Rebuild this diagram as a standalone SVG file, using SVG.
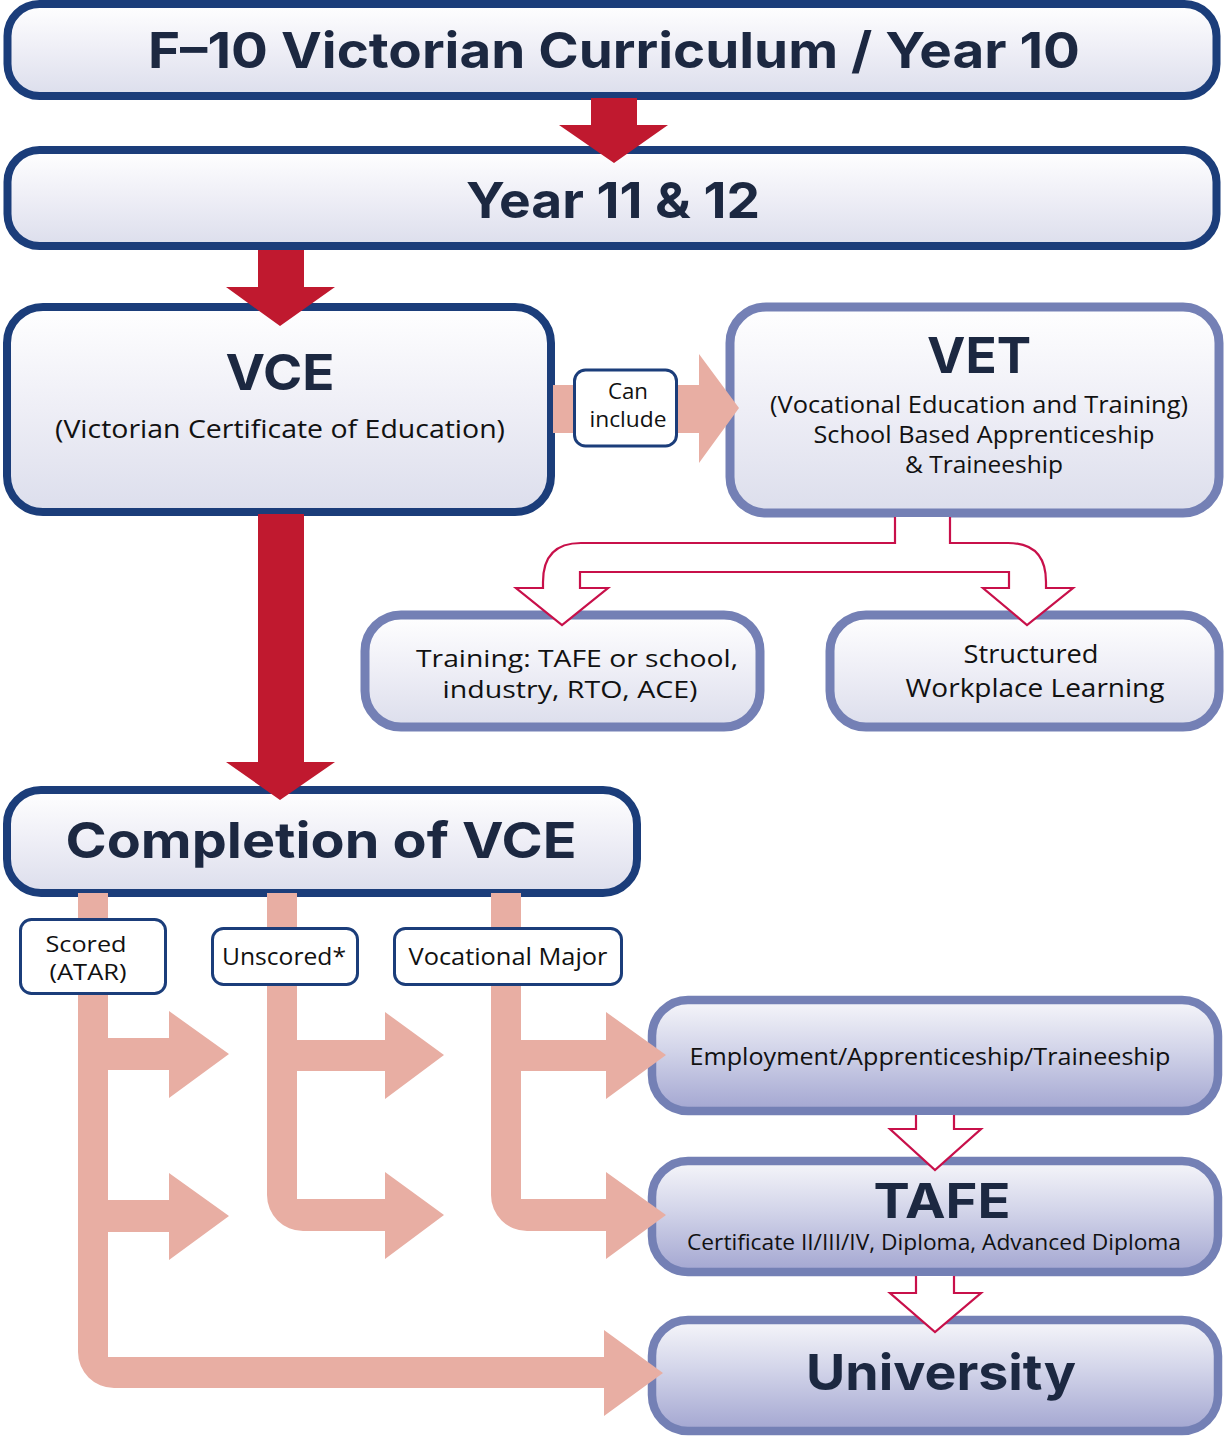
<svg xmlns="http://www.w3.org/2000/svg" width="1224" height="1436" viewBox="0 0 1224 1436">
<defs>
<linearGradient id="gLight" x1="0" y1="0" x2="0" y2="1">
<stop offset="0" stop-color="#ffffff"/>
<stop offset="0.5" stop-color="#eeeef6"/>
<stop offset="1" stop-color="#dcdeec"/>
</linearGradient>
<linearGradient id="gStrong" x1="0" y1="0" x2="0" y2="1">
<stop offset="0" stop-color="#f6f6fa"/>
<stop offset="0.45" stop-color="#d2d4e9"/>
<stop offset="1" stop-color="#a3a6d1"/>
</linearGradient>
<style>
.dark{fill:url(#gLight);stroke:#1b3d7a;stroke-width:8}
.lav{fill:url(#gLight);stroke:#7480b5;stroke-width:9}
.lavS{fill:url(#gStrong);stroke:#7480b5;stroke-width:8.5}
.lbl{fill:#ffffff;stroke:#1b3d7a;stroke-width:3}
.red{fill:#c0192f}
.sal{fill:#e8aea3}
.hol{fill:#ffffff;stroke:#c8104a;stroke-width:2.2;stroke-linejoin:miter}
.b{font-family:Inter,"Noto Sans","Liberation Sans",sans-serif;font-weight:700;fill:#1c2841;text-anchor:middle}
.r{font-family:"Open Sans","Noto Sans","Liberation Sans",sans-serif;font-weight:400;fill:#111111;text-anchor:middle}
</style>
</defs>

<g id="n-year10">
<rect class="dark" x="7.5" y="4" width="1209" height="92" rx="32"/>
<text class="b" x="614" y="68" font-size="50" textLength="932" lengthAdjust="spacingAndGlyphs">F–10 Victorian Curriculum / Year 10</text>
</g>
<g id="n-year1112">
<rect class="dark" x="7.5" y="150" width="1209" height="96" rx="32"/>
<text class="b" x="613" y="218" font-size="50" textLength="294" lengthAdjust="spacingAndGlyphs">Year 11 &amp; 12</text>
</g>
<g id="n-vce">
<rect class="dark" x="7" y="307" width="544" height="205" rx="36"/>
<text class="b" x="280" y="390" font-size="50" textLength="109" lengthAdjust="spacingAndGlyphs">VCE</text>
<text class="r" x="280" y="438" font-size="26" textLength="450" lengthAdjust="spacingAndGlyphs">(Victorian Certificate of Education)</text>
</g>
<g id="n-vet">
<rect class="lav" x="730" y="307" width="489" height="206" rx="36"/>
<text class="b" x="979" y="373" font-size="50" textLength="104" lengthAdjust="spacingAndGlyphs">VET</text>
<text class="r" x="979" y="413" font-size="23" textLength="418" lengthAdjust="spacingAndGlyphs">(Vocational Education and Training)</text>
<text class="r" x="984" y="443" font-size="23" textLength="341" lengthAdjust="spacingAndGlyphs">School Based Apprenticeship</text>
<text class="r" x="984" y="473" font-size="23" textLength="158" lengthAdjust="spacingAndGlyphs">&amp; Traineeship</text>
</g>
<g id="n-training">
<rect class="lav" x="365" y="615" width="395" height="112" rx="36"/>
<text class="r" x="577" y="667" font-size="23" textLength="322" lengthAdjust="spacingAndGlyphs">Training: TAFE or school,</text>
<text class="r" x="570" y="698" font-size="23" textLength="255" lengthAdjust="spacingAndGlyphs">industry, RTO, ACE)</text>
</g>
<g id="n-swl">
<rect class="lav" x="830" y="615" width="389" height="112" rx="36"/>
<text class="r" x="1031" y="663" font-size="25" textLength="135" lengthAdjust="spacingAndGlyphs">Structured</text>
<text class="r" x="1035" y="697" font-size="25" textLength="259" lengthAdjust="spacingAndGlyphs">Workplace Learning</text>
</g>
<g id="n-completion">
<rect class="dark" x="7" y="790" width="630" height="103" rx="34"/>
<text class="b" x="321" y="858" font-size="50" textLength="511" lengthAdjust="spacingAndGlyphs">Completion of VCE</text>
</g>
<g id="n-employment">
<rect class="lavS" x="652" y="1000" width="566" height="111" rx="36"/>
<text class="r" x="930" y="1065" font-size="24" textLength="481" lengthAdjust="spacingAndGlyphs">Employment/Apprenticeship/Traineeship</text>
</g>
<g id="n-tafe">
<rect class="lavS" x="652" y="1161" width="566" height="111" rx="36"/>
<text class="b" x="942" y="1218" font-size="48" textLength="137" lengthAdjust="spacingAndGlyphs">TAFE</text>
<text class="r" x="934" y="1250" font-size="22" textLength="494" lengthAdjust="spacingAndGlyphs">Certificate II/III/IV, Diploma, Advanced Diploma</text>
</g>
<g id="n-university">
<rect class="lavS" x="652" y="1320" width="566" height="111" rx="36"/>
<text class="b" x="941" y="1390" font-size="50" textLength="270" lengthAdjust="spacingAndGlyphs">University</text>
</g>

<g id="connectors">
<path class="red" d="M591,98 H637 V125 H668 L614,163 L559,125 H591 Z"/>
<path class="red" d="M258,250 H304 V287 H335 L280,326 L226,287 H258 Z"/>
<path class="red" d="M258,514 H304 V762 H335 L280,800 L226,762 H258 Z"/>
<path class="sal" d="M553,385 H699 V354 L739,408 L699,463 V433 H553 Z"/>
<path class="hol" d="M895,517 V543 H581 Q543,543 543,582 V588 H516 L562,625 L608,588 H580 V572 H1009 V588 H983 L1027,625 L1073,588 H1046 V582 Q1046,543 1008,543 H950 V517"/>
<path class="hol" d="M916,1115 V1129 H890 L935,1170 L981,1129 H954 V1115"/>
<path class="hol" d="M916,1276 V1293 H890 L935,1332 L981,1293 H954 V1276"/>
<path class="sal" d="M78,893 H108 V1357 H604 V1330 L663,1373 L604,1416 V1388 H114 A36,36 0 0 1 78,1352 Z"/>
<path class="sal" d="M108,1038 H169 V1011 L229,1054 L169,1098 V1070 H108 Z"/>
<path class="sal" d="M108,1200 H169 V1173 L229,1216 L169,1260 V1232 H108 Z"/>
<path class="sal" d="M267,893 H297 V1199 H385 V1172 L444,1215 L385,1259 V1231 H303 A36,36 0 0 1 267,1195 Z"/>
<path class="sal" d="M297,1040 H385 V1012 L444,1055 L385,1099 V1071 H297 Z"/>
<path class="sal" d="M491,893 H521 V1199 H606 V1172 L666,1215 L606,1259 V1231 H527 A36,36 0 0 1 491,1195 Z"/>
<path class="sal" d="M521,1040 H606 V1012 L666,1055 L606,1099 V1071 H521 Z"/>
<g id="lbl-can">
<rect class="lbl" x="574.5" y="370" width="102" height="76" rx="11"/>
<text class="r" x="628" y="399" font-size="21" textLength="40" lengthAdjust="spacingAndGlyphs">Can</text>
<text class="r" x="628" y="427" font-size="21" textLength="77" lengthAdjust="spacingAndGlyphs">include</text>
</g>
<g id="lbl-scored">
<rect class="lbl" x="20.5" y="919.5" width="145" height="74" rx="11"/>
<text class="r" x="86" y="952" font-size="21" textLength="81" lengthAdjust="spacingAndGlyphs">Scored</text>
<text class="r" x="88" y="980" font-size="21" textLength="77" lengthAdjust="spacingAndGlyphs">(ATAR)</text>
</g>
<g id="lbl-unscored">
<rect class="lbl" x="212.5" y="928.5" width="145" height="56" rx="11"/>
<text class="r" x="284" y="965" font-size="23" textLength="124" lengthAdjust="spacingAndGlyphs">Unscored*</text>
</g>
<g id="lbl-vocational">
<rect class="lbl" x="394.5" y="928.5" width="227" height="56" rx="11"/>
<text class="r" x="508" y="965" font-size="23" textLength="199" lengthAdjust="spacingAndGlyphs">Vocational Major</text>
</g>
</g>
</svg>
